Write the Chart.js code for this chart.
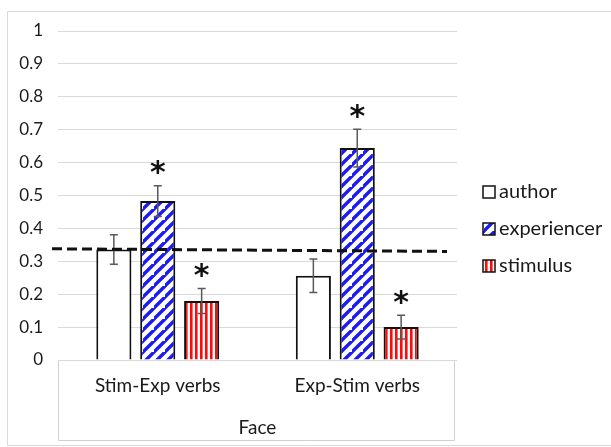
<!DOCTYPE html>
<html>
<head>
<meta charset="utf-8">
<script src="https://cdn.jsdelivr.net/npm/chart.js@4.4.1/dist/chart.umd.min.js"></script>
<style>
  html, body { margin: 0; padding: 0; background: #ffffff; }
  #wrap { width: 611px; height: 447px; position: relative; }
</style>
</head>
<body>
<div id="wrap"><canvas id="c" width="611" height="447"></canvas></div>
<script>
// ---- data ----
const categories = ['Stim-Exp verbs', 'Exp-Stim verbs'];
const groupTitle = 'Face';
const seriesNames = ['author', 'experiencer', 'stimulus'];
const authorValues = [0.336, 0.256];
const experiencerValues = [0.483, 0.644];
const stimulusValues = [0.179, 0.100];
const authorErrors = [0.045, 0.051];
const experiencerErrors = [0.047, 0.057];
const stimulusErrors = [0.038, 0.036];
const authorStars = [false, false];
const experiencerStars = [true, true];
const stimulusStars = [true, true];
const chanceLine = [0.338, 0.330];
const yTicks = [0, 0.1, 0.2, 0.3, 0.4, 0.5, 0.6, 0.7, 0.8, 0.9, 1];

const FONT = 'Lato, "Open Sans", sans-serif';

// ---- patterns ----
function diagPattern(color) {
  const s = 11;
  const cv = document.createElement('canvas');
  cv.width = s; cv.height = s;
  const g = cv.getContext('2d');
  g.fillStyle = '#ffffff'; g.fillRect(0, 0, s, s);
  g.strokeStyle = color; g.lineWidth = 3.4; g.lineCap = 'square';
  g.beginPath();
  g.moveTo(-2, s + 2); g.lineTo(s + 2, -2);
  g.moveTo(-2 - s, s + 2); g.lineTo(2, -2);
  g.moveTo(s - 2, 2 * s + 2); g.lineTo(2 * s + 2, s - 2);
  g.stroke();
  return g.createPattern(cv, 'repeat');
}
function vertPattern(color) {
  const w = 5;
  const cv = document.createElement('canvas');
  cv.width = w; cv.height = 4;
  const g = cv.getContext('2d');
  g.fillStyle = '#ffffff'; g.fillRect(0, 0, w, 4);
  g.fillStyle = color; g.fillRect(0, 0, 2.6, 4);
  return g.createPattern(cv, 'repeat');
}
const blueStripes = diagPattern('#1c1cf0');
const redStripes = vertPattern('#ff0a0a');

const errs = [authorErrors, experiencerErrors, stimulusErrors];
const stars = [authorStars, experiencerStars, stimulusStars];

// ---- plugins ----
const decorPlugin = {
  id: 'decor',
  beforeDraw(chart) {
    const ctx = chart.ctx;
    const ca = chart.chartArea;
    ctx.save();
    ctx.fillStyle = '#ffffff';
    ctx.fillRect(0, 0, chart.width, chart.height);
    // outer frame
    ctx.strokeStyle = '#d9d9d9';
    ctx.lineWidth = 1;
    ctx.beginPath();
    ctx.moveTo(611.5, 11.5); ctx.lineTo(7.5, 11.5); ctx.lineTo(7.5, 445.5); ctx.lineTo(611.5, 445.5);
    ctx.stroke();
    // multi-level axis box
    ctx.strokeStyle = '#d0d0d0';
    ctx.beginPath();
    ctx.moveTo(ca.left + 0.5, ca.bottom); ctx.lineTo(ca.left + 0.5, 440.5);
    ctx.lineTo(ca.right - 2.5, 440.5); ctx.lineTo(ca.right - 2.5, ca.bottom);
    ctx.stroke();
    ctx.restore();
  },
  afterDatasetsDraw(chart) {
    const ctx = chart.ctx;
    const y = chart.scales.y;
    const ca = chart.chartArea;
    ctx.save();
    // error bars + stars
    chart.data.datasets.forEach((ds, di) => {
      const meta = chart.getDatasetMeta(di);
      meta.data.forEach((bar, i) => {
        const v = ds.data[i];
        const e = errs[di][i];
        const x = bar.x;
        const yt = y.getPixelForValue(v + e);
        const yb = y.getPixelForValue(v - e);
        ctx.strokeStyle = '#595959';
        ctx.lineWidth = 1.5;
        ctx.beginPath();
        ctx.moveTo(x, yt); ctx.lineTo(x, yb);
        ctx.moveTo(x - 4, yt); ctx.lineTo(x + 4, yt);
        ctx.moveTo(x - 4, yb); ctx.lineTo(x + 4, yb);
        ctx.stroke();
        if (stars[di][i]) {
          ctx.fillStyle = '#111111';
          ctx.font = 'bold 30px "DejaVu Sans", sans-serif';
          ctx.textAlign = 'center';
          ctx.textBaseline = 'middle';
          ctx.fillText('*', x, yt - 11);
        }
      });
    });
    // dashed chance line
    ctx.strokeStyle = '#111111';
    ctx.lineWidth = 3;
    ctx.setLineDash([10, 5]);
    ctx.beginPath();
    ctx.moveTo(ca.left - 6, y.getPixelForValue(chanceLine[0]));
    ctx.lineTo(ca.right - 10, y.getPixelForValue(chanceLine[1]));
    ctx.stroke();
    ctx.setLineDash([]);
    // legend
    const lx = 483, ly0 = 192, step = 37, bs = 12;
    chart.data.datasets.forEach((ds, di) => {
      const cy = ly0 + di * step;
      ctx.fillStyle = ds.backgroundColor;
      ctx.fillRect(lx, cy - bs / 2, bs, bs);
      ctx.strokeStyle = '#111111';
      ctx.lineWidth = 1.5;
      ctx.strokeRect(lx, cy - bs / 2, bs, bs);
      ctx.fillStyle = '#1a1a1a';
      ctx.font = '20px ' + FONT;
      ctx.textAlign = 'left';
      ctx.textBaseline = 'middle';
      ctx.fillText(ds.label, lx + 16, cy);
    });
    ctx.restore();
  }
};

const ctx = document.getElementById('c').getContext('2d');
new Chart(ctx, {
  type: 'bar',
  data: {
    labels: categories,
    datasets: [
      { label: seriesNames[0], data: authorValues, backgroundColor: '#ffffff', borderColor: '#111111', borderWidth: 2 },
      { label: seriesNames[1], data: experiencerValues, backgroundColor: blueStripes, borderColor: '#111111', borderWidth: 2 },
      { label: seriesNames[2], data: stimulusValues, backgroundColor: redStripes, borderColor: '#111111', borderWidth: 2 }
    ]
  },
  options: {
    responsive: false,
    animation: false,
    devicePixelRatio: 1,
    layout: { padding: { left: 0, right: 154, top: 31, bottom: 0 } },
    datasets: { bar: { categoryPercentage: 0.66, barPercentage: 0.8 } },
    plugins: { legend: { display: false }, tooltip: { enabled: false } },
    scales: {
      y: {
        min: 0, max: 1,
        afterFit(axis) { axis.width = 58; },
        afterBuildTicks(axis) { axis.ticks = yTicks.map(v => ({ value: v })); },
        ticks: {
          padding: 15,
          color: '#1a1a1a',
          font: { family: FONT, size: 17 },
          callback: v => String(v)
        },
        grid: { color: '#d9d9d9', lineWidth: 1, drawTicks: false },
        border: { display: false }
      },
      x: {
        afterFit(axis) { axis.height = 87; },
        ticks: {
          padding: 14,
          color: '#1a1a1a',
          font: { family: FONT, size: 19 }
        },
        grid: { display: false, drawTicks: false },
        border: { display: false },
        title: {
          display: true,
          text: groupTitle,
          color: '#1a1a1a',
          font: { family: FONT, size: 19 },
          padding: { top: 0, bottom: 8 }
        }
      }
    }
  },
  plugins: [decorPlugin]
});
</script>
</body>
</html>
